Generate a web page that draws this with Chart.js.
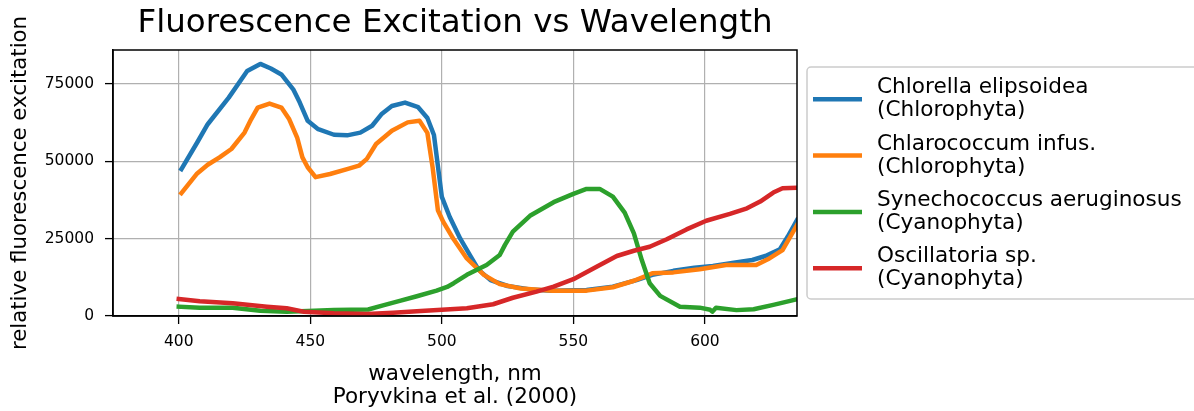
<!DOCTYPE html>
<html>
<head>
<meta charset="utf-8">
<script src="https://cdn.jsdelivr.net/npm/chart.js@4.4.1/dist/chart.umd.min.js"></script>
<style>
	html, body { margin: 0; padding: 0; background: #fff; }
	#wrap { width: 1194px; height: 411px; }
</style>
</head>
<body>
<div id="wrap"><canvas id="chart" width="1194" height="411"></canvas></div>
<script>
// |------------|
// |   Données  |
// |------------|

const seriesLabels = [
	'Chlorella elipsoidea\n(Chlorophyta)',
	'Chlarococcum infus.\n(Chlorophyta)',
	'Synechococcus aeruginosus\n(Cyanophyta)',
	'Oscillatoria sp.\n(Cyanophyta)'
]
const seriesColors = ['#1f77b4', '#ff7f0e', '#2ca02c', '#d62728']

const xTicks = [400, 450, 500, 550, 600]
const yTicks = [0, 25000, 50000, 75000]

// Chlorella elipsoidea
const chlorellaWl = [401, 407, 411, 419, 426, 431, 435, 439, 443.5, 446, 449, 453, 459, 464, 469, 473.5, 477, 481, 486, 491, 494.5, 497, 500, 503, 507, 511, 514, 518.5, 525, 533.5, 542, 555, 565, 574, 580, 588, 596, 603, 611, 618, 623, 628.5, 631.5, 635]
const chlorellaVal = [47500, 56100, 62000, 70600, 79200, 81500, 80000, 78100, 73300, 69000, 63100, 60400, 58600, 58400, 59300, 61500, 65200, 67900, 69000, 67500, 64000, 58500, 38500, 32000, 25000, 19200, 14900, 11600, 9700, 8600, 8200, 8400, 9500, 11600, 13300, 14600, 15600, 16200, 17200, 18100, 19400, 21600, 25700, 31000]

// Chlarococcum infus.
const chlarococcumWl = [401, 407, 411, 415.5, 420, 425, 427.5, 430, 434.5, 439, 442, 445, 447, 449, 452, 457.5, 464, 468.5, 471.5, 475, 481, 487, 491.5, 494.5, 496.5, 498.5, 500.5, 504.5, 509.5, 516, 522, 530, 542, 555, 565, 573, 580, 588, 598, 608, 619.5, 624.5, 629.5, 635]
const chlarococcumVal = [39700, 46100, 48900, 51300, 54000, 59300, 63600, 67400, 68700, 67400, 63600, 57700, 51300, 48100, 44900, 45900, 47500, 48600, 50800, 55600, 59900, 62600, 63100, 59200, 48000, 34200, 30500, 24800, 18600, 13300, 10300, 8900, 8200, 8200, 9300, 11400, 13800, 14100, 15100, 16500, 16500, 18600, 21300, 29400]

// Synechococcus aeruginosus
const synechococcusWl = [400, 408, 420.5, 431, 441, 449, 459, 472, 478, 484, 490.5, 498, 502, 504.5, 509.5, 517, 522, 524, 527, 533.5, 542.5, 550, 555, 560, 565, 569.5, 573, 576, 579, 583, 590.5, 598, 602, 602.8, 604.2, 612, 618.5, 626, 635]
const synechococcusVal = [3000, 2700, 2700, 1700, 1400, 1600, 1900, 2100, 3500, 4900, 6400, 8200, 9400, 10600, 13300, 16500, 19700, 23000, 27300, 32400, 36800, 39500, 41100, 41100, 38600, 33400, 26700, 18100, 10600, 6500, 3000, 2700, 2000, 1400, 2700, 1900, 2200, 3600, 5400]

// Oscillatoria sp.
const oscillatoriaWl = [400, 408, 420.5, 433.5, 441, 447.5, 459, 471.5, 481.5, 492, 500, 509.5, 519.5, 527, 536, 542.5, 550, 559, 566.5, 573, 579, 585.5, 593, 600.5, 609.5, 616, 621, 626, 629.5, 635]
const oscillatoriaVal = [5500, 4800, 4100, 3000, 2500, 1400, 860, 640, 1070, 1600, 2000, 2500, 3800, 5900, 7900, 9500, 11900, 16000, 19400, 21100, 22400, 24800, 28000, 30800, 33000, 34800, 37000, 39900, 41300, 41500]

const wavelengths = [chlorellaWl, chlarococcumWl, synechococcusWl, oscillatoriaWl]
const values = [chlorellaVal, chlarococcumVal, synechococcusVal, oscillatoriaVal]


// |--------------|
// |   Chart.js   |
// |--------------|

Chart.defaults.font.family = '"DejaVu Sans", sans-serif'
Chart.defaults.color = '#000'

const FONT = '"DejaVu Sans", sans-serif'

// Cadre complet autour de la zone du graphique
const frame_plugin = {
	id: 'frame',
	afterDatasetsDraw(chart) {
		const {ctx, chartArea: a} = chart
		ctx.save()
		ctx.strokeStyle = '#000'
		ctx.lineWidth = 1.5
		ctx.strokeRect(a.left, a.top, a.right - a.left, a.bottom - a.top)
		ctx.restore()
	}
}

// Légende à droite, libellés sur deux lignes
const legend_plugin = {
	id: 'sideLegend',
	afterDraw(chart) {
		const {ctx, chartArea: a} = chart
		const boxX = a.right + 10
		const boxY = a.top + 17
		ctx.save()
		ctx.beginPath()
		ctx.roundRect(boxX, boxY, 450, 232, 4)
		ctx.fillStyle = 'rgba(255,255,255,0.8)'
		ctx.fill()
		ctx.strokeStyle = '#cccccc'
		ctx.lineWidth = 1.5
		ctx.stroke()
		ctx.font = '21.6px ' + FONT
		ctx.textBaseline = 'middle'
		ctx.textAlign = 'left'
		chart.data.datasets.forEach((ds, i) => {
			const y = boxY + 32.3 + i * 56.3
			ctx.beginPath()
			ctx.moveTo(boxX + 6, y)
			ctx.lineTo(boxX + 55, y)
			ctx.strokeStyle = ds.borderColor
			ctx.lineWidth = 4.5
			ctx.lineCap = 'butt'
			ctx.stroke()
			ctx.fillStyle = '#000'
			const lines = ds.label.split('\n')
			ctx.fillText(lines[0], boxX + 70, y - 11.5)
			ctx.fillText(lines[1], boxX + 70, y + 11.5)
		})
		ctx.restore()
	}
}

const datasets = seriesLabels.map((label, i) => ({
	label: label,
	data: wavelengths[i].map((x, j) => ({x: x, y: values[i][j]})),
	borderColor: seriesColors[i],
	backgroundColor: seriesColors[i],
	borderWidth: 4.5,
	borderJoinStyle: 'round',
	borderCapStyle: 'square',
	pointRadius: 0,
	tension: 0,
	fill: false,
	order: seriesLabels.length - i
}))

new Chart(document.getElementById('chart'), {
	type: 'line',
	data: { datasets: datasets },
	options: {
		responsive: false,
		animation: false,
		devicePixelRatio: 1,
		layout: { padding: { left: 0, right: 397, top: 0, bottom: 0 } },
		plugins: {
			legend: { display: false },
			tooltip: { enabled: false },
			title: {
				display: true,
				fullSize: false,
				text: 'Fluorescence Excitation vs Wavelength',
				color: '#000',
				font: { size: 32.5, weight: 'normal', lineHeight: 1.2 },
				padding: { top: 4, bottom: 7 }
			}
		},
		scales: {
			x: {
				type: 'linear',
				min: 375,
				max: 635,
				afterFit: (scale) => { scale.height = 95 },
				afterBuildTicks: (scale) => { scale.ticks = xTicks.map(v => ({value: v})) },
				ticks: {
					font: { size: 15.5 },
					padding: 9,
					maxRotation: 0,
					callback: (v) => String(v)
				},
				grid: {
					color: '#b0b0b0',
					lineWidth: 1.2,
					tickLength: 8,
					tickColor: '#000',
					tickWidth: 1.3
				},
				border: { display: true, color: '#000', width: 1.5 },
				title: {
					display: true,
					text: ['wavelength, nm', 'Poryvkina et al. (2000)'],
					font: { size: 21.5, lineHeight: 23 / 21.5 },
					padding: { top: 0, bottom: 2.5 }
				}
			},
			y: {
				min: 0,
				max: 86000,
				afterFit: (scale) => { scale.width = 113 },
				afterBuildTicks: (scale) => { scale.ticks = yTicks.map(v => ({value: v})) },
				ticks: {
					font: { size: 15.5 },
					padding: 11,
					callback: (v) => String(v)
				},
				grid: {
					color: '#b0b0b0',
					lineWidth: 1.2,
					tickLength: 8,
					tickColor: '#000',
					tickWidth: 1.3
				},
				border: { display: true, color: '#000', width: 1.5 },
				title: {
					display: true,
					text: 'relative fluorescence excitation',
					font: { size: 21.3 },
					padding: { top: 8, bottom: 0 }
				}
			}
		}
	},
	plugins: [frame_plugin, legend_plugin]
})
</script>
</body>
</html>
